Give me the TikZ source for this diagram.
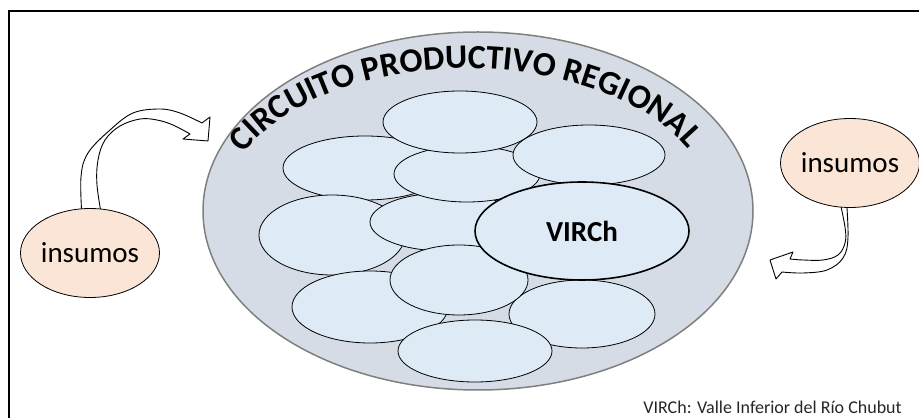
\documentclass[tikz,border=0pt]{standalone}
\usepackage{fontspec}
\setmainfont{Carlito}
\usetikzlibrary{shapes.geometric,decorations.text}
\definecolor{outerfill}{HTML}{D6DCE5}
\definecolor{innerfill}{HTML}{DEEBF7}
\definecolor{peach}{HTML}{FBE5D6}
\definecolor{rimgray}{HTML}{7F7F7F}
\definecolor{notegray}{HTML}{262626}
\newcommand\ttlfont{\fontsize{34}{34}\selectfont\bfseries}
\tikzset{
  cell/.style={ellipse, draw=black, line width=0.8pt, fill=innerfill, inner sep=0pt, outer sep=0pt},
  bigcirc/.style={ellipse, draw=rimgray, line width=1.5pt, fill=outerfill, inner sep=0pt},
  inputs/.style={ellipse, draw=black, line width=0.8pt, fill=peach, inner sep=0pt,
    minimum width=134pt, minimum height=89pt, font=\fontsize{29}{29}\selectfont},
  blockarrow/.style={draw=black, line width=0.9pt, fill=white, line join=round},
}
\begin{document}
\begin{tikzpicture}[x=1pt,y=1pt]
\useasboundingbox (0,0) rectangle (919,418);
% frame
\draw[line width=2.2pt] (9,0) -- (9,407) -- (919,407);

% big ellipse
\node[bigcirc, minimum width=550pt, minimum height=358pt] (big) at (478,207) {};

% title along arc
\path[decorate, decoration={text along path, text={|\ttlfont|CIRCUITO PRODUCTIVO REGIONAL}, text align=center}]
  (241.4,261.3) arc[start angle=158, end angle=24, x radius=244, y radius=141];

% inner ellipses
\node[cell, minimum width=164pt, minimum height=64pt] (e3) at (365,250) {};
\node[cell, minimum width=146pt, minimum height=80pt] (e6) at (332,183) {};
\node[cell, minimum width=150pt, minimum height=58pt] (e7) at (445,196) {};
\node[cell, minimum width=146pt, minimum height=56pt] (e4) at (467,244) {};
\node[cell, minimum width=154pt, minimum height=62pt] (e1) at (460,296) {};
\node[cell, minimum width=152pt, minimum height=60pt] (e2) at (589,263) {};
\node[cell, minimum width=156pt, minimum height=72pt] (e10) at (370,111) {};
\node[cell, minimum width=146pt, minimum height=68pt] (e11) at (582,104) {};
\node[cell, minimum width=138pt, minimum height=70pt] (e9) at (459,138) {};
\node[cell, minimum width=154pt, minimum height=62pt] (e12) at (475,67) {};
\node[cell, line width=1.6pt, minimum width=214pt, minimum height=98pt,
      font=\fontsize{29}{29}\selectfont\bfseries] (virch) at (582,187) {VIRCh};

% left curved arrow
\draw[blockarrow]
  plot[smooth, tension=0.6] coordinates {(82,200) (81,241) (88,265) (110,288) (133,305) (160,309) (180,305) (202,295)}
  -- (210,301) -- (208,277) -- (183,279) -- (190,284)
  -- plot[smooth, tension=0.6] coordinates {(190,284) (173,293) (157,298) (140,299) (120,292) (105,278) (98,258) (97,233) (102,200)}
  -- cycle;
\node[inputs] (inL) at (90,165) {insumos};

% right curved arrow
\draw[blockarrow]
  plot[smooth, tension=0.6] coordinates {(838,225) (845,191) (845,175) (838,163) (823,158) (803,158) (790,159)}
  -- (793,166) -- (770,158) -- (776,139) -- (782,146)
  -- plot[smooth, tension=0.6] coordinates {(782,146) (803,145) (827,148) (843,160) (848,181) (846,225)}
  -- cycle;
\node[inputs] (inR) at (850,255) {insumos};

% note
\node[anchor=base east, inner sep=0pt, text=notegray, font=\fontsize{18}{18}\selectfont] (note) at (902,5) {VIRCh: Valle Inferior del Río Chubut};
\end{tikzpicture}
\end{document}
